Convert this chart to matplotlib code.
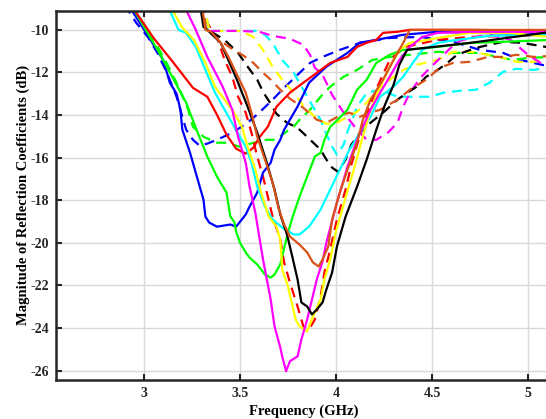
import numpy as np
import matplotlib
matplotlib.use('Agg')
import matplotlib.pyplot as plt

plt.rcParams['font.family'] = ['Liberation Serif', 'DejaVu Serif']
plt.rcParams['font.weight'] = 'bold'
plt.rcParams['axes.unicode_minus'] = False

# measured S11 sweeps, frequency in GHz and magnitude in dB
# solid traces
blue_f = [2.91, 3.10, 3.135, 3.17, 3.19, 3.20, 3.24, 3.28, 3.31, 3.32, 3.34, 3.38, 3.45, 3.48, 3.51, 3.53, 3.55,
          3.59, 3.62, 3.66, 3.68, 3.71, 3.73, 3.76, 3.80, 3.86, 3.95, 4.06, 4.125, 4.21, 4.35, 4.53, 4.70, 5.125]
blue_db = [-8.7, -11.41, -12.48, -13.0, -13.75, -14.69, -15.77, -17.03, -17.97, -18.77, -19.05, -19.24, -19.14,
           -19.24, -18.9, -18.67, -18.3, -17.64, -16.7, -16.24, -15.63, -15.16, -14.69, -14.22, -13.6, -12.48,
           -11.73, -11.08, -10.6, -10.47, -10.23, -10.09, -10.14, -10.2]

green_f = [2.925, 3.08, 3.22, 3.28, 3.33, 3.38, 3.43, 3.45, 3.47, 3.48, 3.50, 3.53, 3.55, 3.59, 3.63, 3.66, 3.68,
           3.71, 3.745, 3.77, 3.81, 3.85, 3.89, 3.92, 3.94, 3.97, 4.0, 4.06, 4.11, 4.16, 4.21, 4.28, 4.35, 4.53,
           4.70, 4.87, 5.125]
green_db = [-8.7, -11.08, -13.42, -14.83, -15.95, -16.89, -17.64, -18.77, -19.0, -19.47, -19.99, -20.45, -20.69,
            -21.02, -21.49, -21.63, -21.49, -21.0, -19.7, -18.9, -17.83, -16.89, -15.95, -15.77, -15.16, -14.55,
            -14.3, -13.75, -12.81, -12.34, -11.55, -11.17, -10.94, -10.8, -10.61, -10.56, -10.47]

red_f = [2.93, 3.05, 3.15, 3.255, 3.33, 3.38, 3.43, 3.48, 3.53, 3.57, 3.60, 3.645, 3.69, 3.76, 3.83, 3.90, 3.97,
         4.06, 4.11, 4.16, 4.21, 4.245, 4.32, 4.385, 4.70, 5.125]
red_db = [-8.8, -10.38, -11.5, -12.72, -13.14, -13.98, -14.92, -15.58, -15.81, -15.53, -15.06, -14.55, -13.61,
          -12.95, -12.48, -12.02, -11.55, -11.27, -10.8, -10.61, -10.47, -10.14, -10.09, -10.0, -10.0, -10.05]

cyan_f = [3.115, 3.18, 3.22, 3.27, 3.32, 3.37, 3.42, 3.47, 3.53, 3.56, 3.59, 3.63, 3.67, 3.72, 3.78, 3.81, 3.86,
          3.92, 3.97, 4.02, 4.07, 4.125, 4.18, 4.23, 4.30, 4.35, 4.40, 4.45, 4.53, 4.63, 4.80, 5.125]
cyan_db = [-8.7, -10.0, -10.14, -10.8, -11.88, -12.95, -13.75, -14.55, -15.49, -16.24, -17.36, -18.3, -18.9,
           -19.28, -19.61, -19.61, -19.24, -18.44, -17.5, -16.56, -15.63, -14.83, -14.08, -13.14, -12.67, -12.2,
           -11.55, -10.94, -10.61, -10.47, -10.28, -10.23]

yellow_f = [3.125, 3.20, 3.26, 3.32, 3.37, 3.42, 3.47, 3.51, 3.54, 3.58, 3.61, 3.65, 3.69, 3.71, 3.72, 3.75,
            3.79, 3.81, 3.85, 3.88, 3.92, 3.94, 3.97, 4.0, 4.05, 4.10, 4.135, 4.18, 4.23, 4.28, 4.33, 4.385, 4.53,
            4.70, 4.91, 5.125]
yellow_db = [-8.7, -9.9, -10.47, -11.55, -12.67, -13.28, -13.89, -14.55, -15.49, -16.56, -17.64, -18.77, -19.24,
             -19.85, -21.25, -22.05, -23.6, -23.92, -24.16, -23.46, -22.66, -21.72, -20.78, -19.47, -17.88, -16.33,
             -15.16, -13.75, -12.67, -11.73, -10.94, -10.61, -10.38, -10.14, -10.14, -10.35]

magenta_f = [3.20, 3.27, 3.33, 3.41, 3.46, 3.49, 3.53, 3.55, 3.58, 3.62, 3.66, 3.68, 3.71, 3.72, 3.74, 3.76,
             3.80, 3.82, 3.85, 3.875, 3.90, 3.93, 3.95, 4.005, 4.06, 4.11, 4.18, 4.23, 4.28, 4.33, 4.385, 4.45,
             4.53, 4.70, 5.125]
magenta_db = [-8.7, -10.0, -11.27, -12.67, -13.75, -15.02, -16.24, -17.36, -18.58, -20.78, -22.66, -23.92,
              -24.91, -25.33, -26.03, -25.56, -25.33, -24.53, -23.6, -22.66, -21.72, -20.88, -19.99, -18.11,
              -16.42, -15.16, -13.75, -12.95, -12.2, -11.41, -10.8, -10.33, -10.14, -10.09, -10.09]

black_f = [3.29, 3.31, 3.33, 3.40, 3.48, 3.54, 3.59, 3.64, 3.68, 3.71, 3.745, 3.77, 3.80, 3.82, 3.85, 3.875,
           3.90, 3.93, 3.95, 3.98, 4.005, 4.05, 4.11, 4.16, 4.21, 4.255, 4.30, 4.33, 4.37, 4.70, 5.125]
black_db = [-8.7, -9.86, -10.0, -10.61, -12.25, -13.61, -14.83, -16.24, -17.5, -18.67, -19.61, -20.55, -21.72,
            -22.8, -22.99, -23.36, -23.13, -22.8, -22.19, -21.39, -20.17, -18.77, -17.36, -16.09, -14.69, -13.52,
            -12.58, -11.64, -10.94, -10.61, -10.09]

brown_f = [3.30, 3.32, 3.35, 3.40, 3.44, 3.48, 3.53, 3.56, 3.59, 3.63, 3.67, 3.70, 3.73, 3.76, 3.81, 3.85, 3.88,
           3.91, 3.93, 3.96, 3.98, 4.02, 4.06, 4.11, 4.14, 4.18, 4.245, 4.30, 4.35, 4.385, 5.125]
brown_db = [-8.7, -10.0, -10.09, -10.61, -11.27, -12.02, -12.95, -13.89, -15.02, -16.09, -17.17, -18.34, -19.14,
            -19.7, -20.08, -20.45, -20.92, -21.11, -20.78, -20.17, -18.9, -17.64, -16.56, -15.3, -14.22, -13.28,
            -12.34, -11.41, -10.61, -10.0, -10.0]

# dashed traces
blue_d_f = [2.90, 2.96, 3.02, 3.07, 3.12, 3.17, 3.20, 3.22, 3.255, 3.29, 3.33, 3.38, 3.46, 3.54, 3.60, 3.67,
            3.73, 3.80, 3.865, 3.93, 4.02, 4.125, 4.28, 4.44, 4.61, 4.75, 4.87, 4.96, 5.125]
blue_d_db = [-8.83, -9.67, -10.33, -11.08, -12.02, -13.14, -14.08, -14.69, -15.16, -15.44, -15.34, -15.16,
             -14.83, -14.36, -13.89, -13.28, -12.72, -12.11, -11.55, -11.27, -10.94, -10.61, -10.38, -10.33,
             -10.56, -10.94, -11.08, -11.41, -11.75]

green_d_f = [2.93, 3.03, 3.11, 3.18, 3.23, 3.255, 3.31, 3.38, 3.43, 3.50, 3.57, 3.64, 3.69, 3.72, 3.78, 3.81,
             3.865, 3.92, 3.97, 4.04, 4.11, 4.19, 4.28, 4.385, 4.53, 4.63, 4.75, 4.84, 4.92, 5.01, 5.125]
green_d_db = [-8.8, -10.14, -11.41, -12.67, -13.75, -14.55, -15.02, -15.3, -15.3, -15.49, -15.3, -15.16,
              -15.16, -14.92, -14.55, -14.22, -13.75, -13.14, -12.67, -12.2, -11.88, -11.41, -11.27, -11.17,
              -11.03, -11.08, -11.08, -11.27, -11.41, -11.31, -11.27]

red_d_f = [3.32, 3.33, 3.385, 3.42, 3.46, 3.49, 3.53, 3.56, 3.59, 3.62, 3.645, 3.67, 3.71, 3.73, 3.76, 3.80,
           3.83, 3.86, 3.89, 3.92, 3.94, 3.97, 4.005, 4.05, 4.08, 4.11, 4.16, 4.22, 4.28, 4.36, 4.53, 4.70, 5.125]
red_d_db = [-8.7, -9.67, -10.47, -11.41, -12.2, -13.14, -13.89, -14.83, -15.95, -16.89, -17.83, -18.77, -19.85,
            -20.92, -21.86, -22.99, -23.92, -24.06, -23.6, -22.52, -21.39, -20.31, -18.9, -17.5, -16.33, -15.39,
            -13.98, -12.58, -11.41, -10.8, -10.47, -10.33, -10.23]

cyan_d_f = [3.31, 3.34, 3.58, 3.63, 3.67, 3.72, 3.78, 3.83, 3.88, 3.92, 3.94, 3.98, 4.005, 4.04, 4.06, 4.11,
            4.16, 4.23, 4.32, 4.40, 4.49, 4.56, 4.645, 4.73, 4.80, 4.87, 4.94, 5.03, 5.125]
cyan_d_db = [-8.7, -10.05, -10.05, -10.23, -10.61, -11.41, -12.02, -12.81, -13.61, -14.22, -14.69, -15.49,
             -15.86, -15.39, -14.78, -13.61, -12.95, -12.81, -13.14, -13.14, -13.14, -12.95, -12.86, -12.81,
             -12.48, -11.97, -11.83, -11.88, -11.75]

yellow_d_f = [3.31, 3.34, 3.50, 3.57, 3.62, 3.67, 3.72, 3.78, 3.83, 3.90, 3.95, 4.005, 4.06, 4.11, 4.16, 4.21,
              4.28, 4.35, 4.42, 4.53, 4.61, 4.70, 4.79, 4.87, 4.94, 5.03, 5.125]
yellow_d_db = [-8.7, -10.05, -10.05, -10.33, -10.94, -11.73, -12.34, -12.95, -13.56, -14.17, -14.41, -14.36,
               -14.08, -13.84, -13.42, -12.86, -12.34, -11.88, -11.64, -11.41, -11.03, -11.03, -11.17, -11.31,
               -11.5, -11.5, -11.3]

magenta_d_f = [3.31, 3.32, 3.50, 3.60, 3.67, 3.76, 3.83, 3.865, 3.89, 3.93, 3.98, 4.04, 4.11, 4.16, 4.21, 4.27,
               4.32, 4.35, 4.385, 4.44, 4.49, 4.56, 4.63, 4.70, 4.80, 4.91, 5.0, 5.125]
magenta_d_db = [-8.7, -10.05, -10.05, -10.09, -10.28, -10.42, -10.7, -11.17, -11.78, -12.11, -13.05, -13.89,
                -14.69, -15.16, -15.16, -14.83, -14.36, -13.61, -12.95, -12.25, -11.78, -11.17, -10.56, -10.38,
                -10.23, -10.47, -11.17, -11.9]

black_d_f = [3.31, 3.32, 3.35, 3.42, 3.49, 3.54, 3.59, 3.62, 3.66, 3.69, 3.745, 3.80, 3.85, 3.92, 3.95, 3.98,
             4.01, 4.05, 4.08, 4.125, 4.18, 4.245, 4.32, 4.37, 4.42, 4.47, 4.53, 4.58, 4.63, 4.70, 4.75, 4.87,
             4.97, 5.125]
black_d_db = [-8.7, -9.91, -10.09, -10.47, -11.08, -11.73, -12.34, -12.91, -13.47, -13.94, -14.36, -14.6,
              -15.02, -15.63, -16.09, -16.47, -16.66, -16.09, -15.39, -14.83, -14.36, -13.89, -13.28, -12.95,
              -12.67, -12.2, -11.88, -11.55, -11.17, -10.94, -10.8, -10.56, -10.61, -10.85]

brown_d_f = [3.31, 3.32, 3.37, 3.45, 3.52, 3.57, 3.615, 3.66, 3.71, 3.76, 3.83, 3.90, 3.95, 3.98, 4.03, 4.07,
             4.125, 4.18, 4.23, 4.32, 4.385, 4.47, 4.54, 4.61, 4.70, 4.79, 4.87, 4.94, 5.03, 5.125]
brown_d_db = [-8.7, -9.91, -10.33, -10.84, -11.22, -11.55, -11.97, -12.34, -12.81, -13.23, -13.66, -14.22,
              -14.36, -14.22, -13.98, -13.89, -14.08, -13.89, -13.75, -13.28, -12.81, -12.34, -11.78, -11.55,
              -11.5, -11.27, -11.27, -11.17, -11.27, -11.22]

brown = (0.85, 0.325, 0.098)
line_colors = ['#0000ff', '#00ff00', '#ff0000', '#00ffff', '#ffff00', '#ff00ff', '#000000', brown]

solid = [(blue_f, blue_db), (green_f, green_db), (red_f, red_db), (cyan_f, cyan_db),
         (yellow_f, yellow_db), (magenta_f, magenta_db), (black_f, black_db), (brown_f, brown_db)]
dashed = [(blue_d_f, blue_d_db), (green_d_f, green_d_db), (red_d_f, red_d_db), (cyan_d_f, cyan_d_db),
          (yellow_d_f, yellow_d_db), (magenta_d_f, magenta_d_db), (black_d_f, black_d_db),
          (brown_d_f, brown_d_db)]

fig = plt.figure(figsize=(5.46, 4.19), dpi=100)
ax = fig.add_axes([56 / 546, 39 / 419, 496 / 546, 369.3 / 419])

for (f, db), c in zip(dashed, line_colors):
    ax.plot(f, db, color=c, lw=1.6, ls=(0, (4.5, 3)))
for (f, db), c in zip(solid, line_colors):
    ax.plot(f, db, color=c, lw=1.6)

ax.set_xlim(2.542, 5.125)
ax.set_ylim(-26.44, -9.1)
ax.set_xticks([3, 3.5, 4, 4.5, 5])
ax.set_xticklabels(['3', '3.5', '4', '4.5', '5'])
ax.set_yticks(np.arange(-26, -9, 2))
ax.grid(True, color='#d9d9d9', lw=1.0)
ax.set_axisbelow(True)
ax.tick_params(direction='in', length=4, width=1.5, top=True, right=True,
               labelsize=10, pad=5, colors='#262626')
for s in ax.spines.values():
    s.set_linewidth(1.8)
    s.set_color('#262626')

ax.set_xlabel('Frequency (GHz)', fontsize=10.5, fontweight='bold', labelpad=3)
ax.set_ylabel('Magnitude of Reflection Coefficients (dB)', fontsize=10.5, fontweight='bold', labelpad=0.5)

fig.savefig('out.png', dpi=100)
